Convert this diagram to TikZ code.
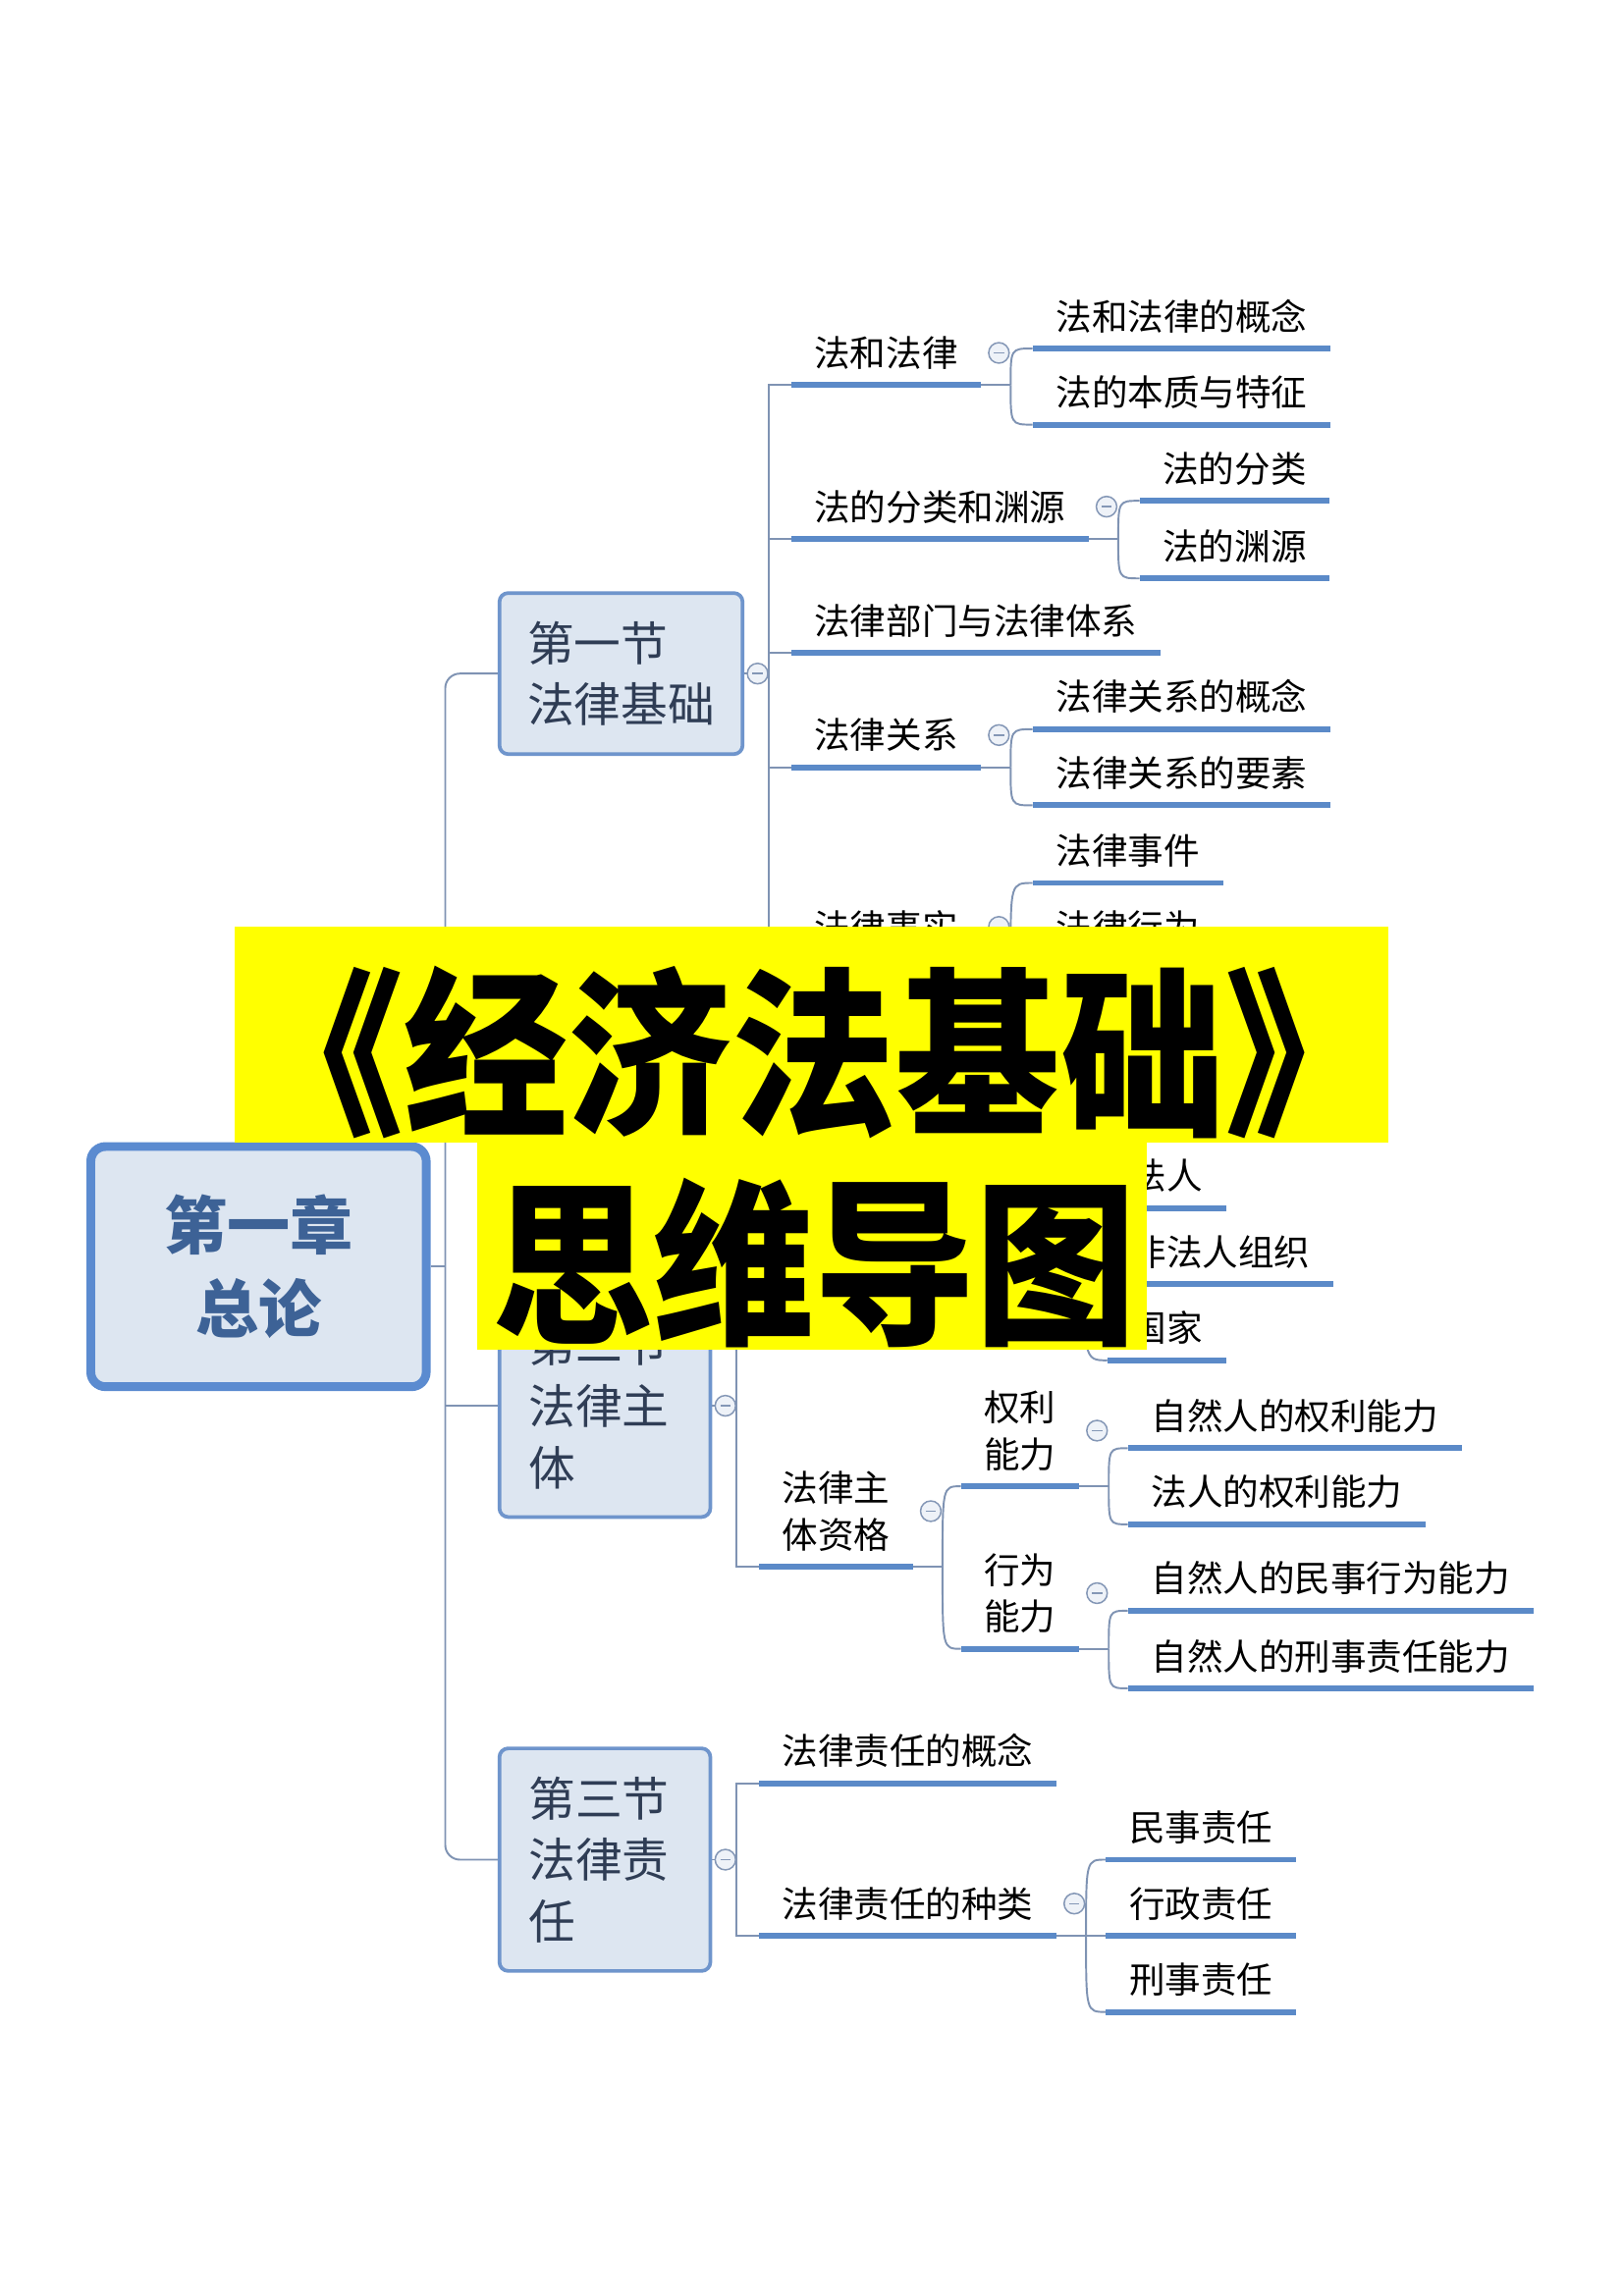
\documentclass[tikz,border=0pt]{standalone}
\usepackage{fontspec}
\usepackage{graphicx}
\newfontfamily\cjk{Noto Sans CJK SC}
\IfFontExistsTF{Noto Sans CJK SC Black}
  {\newfontfamily\heavy{Noto Sans CJK SC Black}}
  {\newfontfamily\heavy{Noto Sans CJK SC}[FakeBold=3]}
\newcommand\itemfont{\cjk\fontsize{24.5pt}{32pt}\selectfont}
\newcommand\sectfont{\cjk\fontsize{32pt}{42pt}\selectfont}
\newcommand\rootfont{\cjk\bfseries\fontsize{43pt}{57pt}\selectfont}
\definecolor{linkc}{HTML}{7F93B3}
\definecolor{ulinec}{HTML}{5B8AC8}
\definecolor{foldc}{HTML}{8497B6}
\definecolor{foldf}{HTML}{EEF2F8}
\definecolor{boxf}{HTML}{DDE6F1}
\definecolor{sectc}{HTML}{6F95CC}
\definecolor{sectt}{HTML}{2F3D55}
\definecolor{rootc}{HTML}{5B8BD0}
\definecolor{roott}{HTML}{3D6296}
\definecolor{bannerc}{HTML}{FFFF00}
\begin{document}
\begin{tikzpicture}[x=1pt,y=-1pt,
  item/.style={font=\itemfont,align=left,inner xsep=16pt,inner ysep=8.7pt,text depth=4pt,outer sep=0pt,anchor=south west},
  sect/.style={draw=sectc,line width=2.5pt,fill=boxf,rounded corners=6pt,text=sectt,font=\sectfont,align=left,inner sep=0pt,text width=104pt,minimum width=144pt,minimum height=152pt},
  root/.style={draw=rootc,line width=6pt,fill=boxf,rounded corners=10pt,text=roott,font=\rootfont,align=center,minimum width=229pt,minimum height=164pt},
  fold/.style={circle,draw=foldc,fill=foldf,line width=1pt,minimum size=14pt,inner sep=0pt,
    path picture={\draw[foldc,line width=1pt] ([xshift=-3.5pt]path picture bounding box.center) -- ([xshift=3.5pt]path picture bounding box.center);}},
  link/.style={draw=linkc,line width=1.3pt},
  uline/.style={draw=ulinec,line width=4pt},
  branch/.style={to path={.. controls (\tikztostart |- \tikztotarget) .. (\tikztotarget)}},
  banner/.style={fill=bannerc,inner sep=0pt,outer sep=0pt,anchor=north west},
  title/.style={inner sep=0pt,anchor=base,text=black}]
  \fill[white] (0,0) rectangle (1108,1568);
  \useasboundingbox (0,0) rectangle (1108,1568);

  \node[root] (root) at (176.5,865) {第一章\\总论};
  \node[sect,text width=128pt,minimum width=166pt,minimum height=110pt] (s1) at (424,460) {第一节\\法律基础};
  \node[sect] (s2) at (413,960) {第二节\\法律主\\体};
  \node[sect] (s3) at (413,1270) {第三节\\法律责\\任};

  \node[item] (fafl) at (540,263) {法和法律};
  \node[item] (fagn) at (705,238) {法和法律的概念};
  \node[item] (fabz) at (705,290) {法的本质与特征};
  \node[item] (fenl) at (540,368) {法的分类和渊源};
  \node[item] (fenlei) at (778,342) {法的分类};
  \node[item] (yuanyuan) at (778,395) {法的渊源};
  \node[item] (bumen) at (540,446) {法律部门与法律体系};
  \node[item] (guanxi) at (540,524) {法律关系};
  \node[item] (gxgn) at (705,498) {法律关系的概念};
  \node[item] (gxys) at (705,550) {法律关系的要素};
  \node[item] (shishi) at (540,655) {法律事实};
  \node[item] (shijian) at (705,603) {法律事件};
  \node[item] (xingwei) at (705,655) {法律行为};

  \coordinate (zhonglei-b) at (740,851);
  \node[item] (faren) at (756,825) {法人};
  \node[item] (feifaren) at (756,877) {非法人组织};
  \node[item] (guojia) at (756,929) {国家};
  \node[item] (zige) at (518,1070) {法律主\\体资格};
  \node[item] (quanli) at (656,1015) {权利\\能力};
  \node[item] (qlzr) at (770,989) {自然人的权利能力};
  \node[item] (qlfr) at (770,1041) {法人的权利能力};
  \node[item] (xwnl) at (656,1126) {行为\\能力};
  \node[item] (xwms) at (770,1100) {自然人的民事行为能力};
  \node[item] (xwxs) at (770,1153) {自然人的刑事责任能力};

  \node[item] (zrgn) at (518,1218) {法律责任的概念};
  \node[item] (zrzl) at (518,1322) {法律责任的种类};
  \node[item] (minshi) at (755,1270) {民事责任};
  \node[item] (xingzheng) at (755,1322) {行政责任};
  \node[item] (xingshi) at (755,1374) {刑事责任};

  \coordinate (sp1) at (525,460);
  \coordinate (sp2) at (503,960);
  \coordinate (sp3) at (503,1270);
  \coordinate (rsp) at (304,865);
  \draw[link,rounded corners=10pt] (s1.west) -| (rsp) |- (s3.west);
  \draw[link] (s2.west) -- (rsp |- s2.west);
  \draw[link] (root.east) -- (rsp);
  \draw[link] (s1.east) -- (sp1) (s2.east) -- (sp2) (s3.east) -- (sp3);
  \draw[link] (fafl.south west) -| (sp1) |- (shishi.south west);
  \foreach \n in {fenl,bumen,guanxi} \draw[link] (sp1 |- \n.south) -- (\n.south west);
  \draw[link] (sp2 |- zhonglei-b) |- (zige.south west);
  \draw[link] (zrgn.south west) -| (sp3) |- (zrzl.south west);

  \foreach \p in {fafl,fenl,guanxi,shishi,zige,quanli,xwnl,zrzl}
    \coordinate (\p-b) at ([xshift=20pt]\p.south east);
  \foreach \p in {fafl,fenl,guanxi,shishi,zige,quanli,xwnl,zrzl}
    \draw[link] (\p.south east) -- (\p-b);
  \path[link]
    (fafl-b) edge[branch] (fagn.south west) edge[branch] (fabz.south west)
    (fenl-b) edge[branch] (fenlei.south west) edge[branch] (yuanyuan.south west)
    (guanxi-b) edge[branch] (gxgn.south west) edge[branch] (gxys.south west)
    (shishi-b) edge[branch] (shijian.south west) edge[branch] (xingwei.south west)
    (zhonglei-b) edge[branch] (faren.south west) edge[branch] (feifaren.south west) edge[branch] (guojia.south west)
    (zige-b) edge[branch] (quanli.south west) edge[branch] (xwnl.south west)
    (quanli-b) edge[branch] (qlzr.south west) edge[branch] (qlfr.south west)
    (xwnl-b) edge[branch] (xwms.south west) edge[branch] (xwxs.south west)
    (zrzl-b) edge[branch] (minshi.south west) edge[branch] (xingzheng.south west) edge[branch] (xingshi.south west);

  \foreach \n in {fafl,fagn,fabz,fenl,fenlei,yuanyuan,bumen,guanxi,gxgn,gxys,shishi,shijian,xingwei,
    faren,feifaren,guojia,zige,quanli,qlzr,qlfr,xwnl,xwms,xwxs,zrgn,zrzl,minshi,xingzheng,xingshi}
    \draw[uline] (\n.south west) -- (\n.south east);

  \foreach \p in {fafl,fenl,guanxi,shishi,zrzl}
    \node[fold] (\p-f) at ([xshift=12pt,yshift=22pt]\p.south east) {};
  \foreach \p in {zige,quanli,xwnl}
    \node[fold] (\p-f) at ([xshift=12pt,yshift=38pt]\p.south east) {};
  \foreach \s in {s1,s2,s3}
    \node[fold] (\s-f) at ([xshift=9pt]\s.east) {};

  \node[banner,minimum width=788pt,minimum height=147pt] (ban1) at (160,633) {};
  \node[banner,minimum width=457pt,minimum height=142pt] (ban2) at (326,780) {};
  \node[title,font=\heavy\fontsize{112pt}{112pt}\selectfont] (tit1) at (556,766) {\scalebox{1}[1.1]{《经济法基础》}};
  \node[title,font=\heavy\fontsize{110pt}{110pt}\selectfont] (tit2) at (556,909) {\scalebox{1}[1.1]{思维导图}};
\end{tikzpicture}
\end{document}
